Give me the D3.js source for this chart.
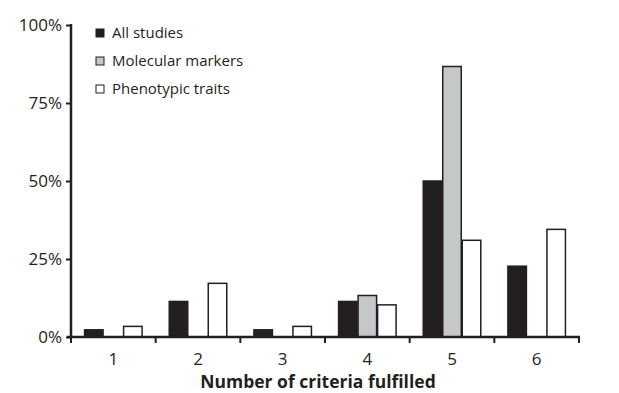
<!DOCTYPE html>
<html>
<head>
<meta charset="utf-8">
<script src="https://cdn.jsdelivr.net/npm/d3@7"></script>
<style>
  body { margin: 0; background: #fff; }
  text { font-family: "Open Sans", sans-serif; fill: #231f20; }
</style>
</head>
<body>
<div id="chart-area"></div>
<script>
// data (share of studies per number of criteria)
var categories = ["1", "2", "3", "4", "5", "6"];
var seriesNames = ["All studies", "Molecular markers", "Phenotypic traits"];
var allStudies = [2.3, 11.4, 2.3, 11.4, 50.0, 22.7];
var molecular = [0, 0, 0, 13.3, 86.7, 0];
var phenotypic = [3.4, 17.2, 3.4, 10.3, 31.0, 34.5];
var yTicks = [0, 25, 50, 75, 100];

var W = 619, H = 393;
var margin = {top: 25, right: 40, bottom: 56, left: 71};
var w = 579 - margin.left;
var h = 337 - margin.top;

var colors = ["#231f20", "#c6c7c8", "#ffffff"];

var svg = d3.select("#chart-area").append("svg")
    .attr("width", W)
    .attr("height", H);

var group = svg.append("g")
    .attr("transform", "translate(" + margin.left + ", " + margin.top + ")");

var x = d3.scaleBand()
    .domain(categories)
    .range([0, w]);

var x1 = d3.scaleBand()
    .domain(seriesNames)
    .range([0, x.bandwidth()])
    .paddingInner(0)
    .paddingOuter(0.67);

var y = d3.scaleLinear()
    .domain([0, 100])
    .range([h, 0]);

var table = categories.map((c, i) => {
    return {cat: c, values: [allStudies[i], molecular[i], phenotypic[i]]};
});

// bars
var cats = group.selectAll(".cat")
    .data(table)
    .enter().append("g")
    .attr("class", "cat")
    .attr("transform", (d) => { return "translate(" + x(d.cat) + ",0)"; });

cats.selectAll("rect")
    .data((d) => { return d.values.map((v, k) => { return {name: seriesNames[k], k: k, v: v}; }); })
    .enter().append("rect")
    .filter((d) => { return d.v > 0; })
    .attr("x", (d) => { return x1(d.name) + 0.5; })
    .attr("y", (d) => { return y(d.v); })
    .attr("width", x1.bandwidth() - 1)
    .attr("height", (d) => { return h - y(d.v); })
    .attr("fill", (d) => { return colors[d.k]; })
    .attr("stroke", "#231f20")
    .attr("stroke-width", 1.5);

// y axis
var left = d3.axisLeft(y)
    .tickValues(yTicks)
    .tickSize(5)
    .tickPadding(4)
    .tickFormat((d) => { return d + "%"; });

var yg = group.append("g").call(left);
yg.select(".domain").remove();
yg.selectAll("line").attr("stroke", "#231f20").attr("stroke-width", 2);
yg.selectAll("text").attr("font-size", "17px").attr("fill", "#231f20");
group.append("line")
    .attr("x1", 0).attr("x2", 0)
    .attr("y1", y(100) - 1).attr("y2", h + 1)
    .attr("stroke", "#231f20").attr("stroke-width", 2.5);

// x axis
var bottom = d3.axisBottom(x)
    .tickSize(0)
    .tickPadding(16);

var xg = group.append("g")
    .attr("transform", "translate(0, " + h + ")")
    .call(bottom);
xg.select(".domain").remove();
xg.selectAll("text").attr("font-size", "17px").attr("fill", "#231f20");
xg.append("line")
    .attr("x1", -4).attr("x2", w + 1)
    .attr("y1", 0).attr("y2", 0)
    .attr("stroke", "#231f20").attr("stroke-width", 2.5);
xg.selectAll(".sep")
    .data(categories.concat(["end"]))
    .enter().append("line")
    .attr("class", "sep")
    .attr("x1", (d, i) => { return i * x.step(); })
    .attr("x2", (d, i) => { return i * x.step(); })
    .attr("y1", 0).attr("y2", 6)
    .attr("stroke", "#231f20").attr("stroke-width", 2);

group.append("text")
    .attr("x", w / 2 - 7)
    .attr("y", h + 51)
    .attr("text-anchor", "middle")
    .attr("font-size", "17.5px")
    .attr("font-weight", "bold")
    .text("Number of criteria fulfilled");

// legend
var legend = svg.append("g")
    .attr("transform", "translate(96, 29)");

var items = legend.selectAll(".item")
    .data(seriesNames)
    .enter().append("g")
    .attr("class", "item")
    .attr("transform", (d, i) => { return "translate(0," + (i * 28) + ")"; });

items.append("rect")
    .attr("width", 8).attr("height", 8)
    .attr("fill", (d, i) => { return colors[i]; })
    .attr("stroke", "#231f20")
    .attr("stroke-width", 1);

items.append("text")
    .attr("x", 16)
    .attr("y", 4)
    .attr("dy", "0.35em")
    .attr("font-size", "15px")
    .text((d) => { return d; });
</script>
</body>
</html>
